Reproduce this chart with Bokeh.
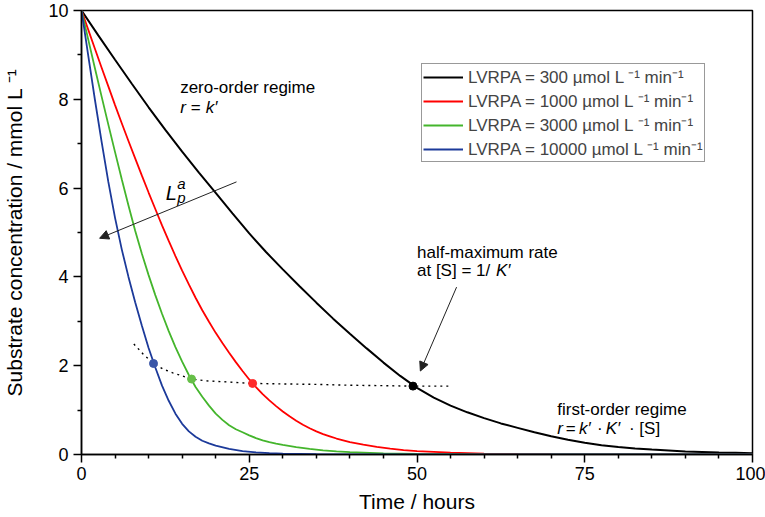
from bokeh.plotting import figure
from bokeh.models import (Range1d, Label, Arrow, NormalHead, Legend, LegendItem,
                          FixedTicker)
from bokeh.embed import file_html
from bokeh.resources import INLINE

# ---------------- data ----------------
series_labels = [
    "LVRPA = 300 µmol L ⁻¹ min⁻¹",
    "LVRPA = 1000 µmol L ⁻¹ min⁻¹",
    "LVRPA = 3000 µmol L ⁻¹ min⁻¹",
    "LVRPA = 10000 µmol L ⁻¹ min⁻¹",
]
series_colors = ["#000000", "#ff0000", "#44b52c", "#1c3a9a"]
dot_colors = ["#000000", "#ff2a2a", "#66bf48", "#3a56a8"]

black_t = [0, 2.5, 5, 7.5, 10, 12.5, 15, 17.5, 20, 22.5, 25, 27.5, 30, 32.5, 35,
           37.5, 40, 42.5, 45, 47.5, 50, 52.5, 55, 57.5, 60, 62.5, 65, 67.5, 70,
           72.5, 75, 77.5, 80, 82.5, 85, 87.5, 90, 92.5, 95, 97.5, 100]
black_S = [10.00, 9.44, 8.89, 8.35, 7.82, 7.31, 6.82, 6.35, 5.89, 5.43, 4.98,
           4.56, 4.17, 3.79, 3.42, 3.06, 2.72, 2.39, 2.07, 1.77, 1.50, 1.28, 1.10,
           0.95, 0.82, 0.70, 0.60, 0.50, 0.41, 0.33, 0.265, 0.21, 0.17, 0.135,
           0.11, 0.09, 0.07, 0.058, 0.047, 0.038, 0.03]

red_t = [0, 1, 2, 3, 4, 5, 6, 7, 8, 9, 10, 11, 12, 13, 14, 15, 16, 17, 18, 19,
         20, 21, 22, 23, 24, 25, 26, 27, 28, 29, 30, 31, 32, 33, 34, 35, 36, 37,
         38, 39, 40, 42, 44, 46, 48, 50, 55, 60, 65, 70, 80, 90, 100]
red_S = [10.00, 9.57, 9.14, 8.71, 8.29, 7.87, 7.46, 7.06, 6.67, 6.28, 5.90, 5.53,
         5.16, 4.81, 4.47, 4.14, 3.83, 3.53, 3.25, 2.99, 2.74, 2.51, 2.29, 2.08,
         1.88, 1.69, 1.52, 1.36, 1.22, 1.09, 0.97, 0.86, 0.76, 0.67, 0.59, 0.52,
         0.46, 0.41, 0.36, 0.32, 0.28, 0.22, 0.17, 0.13, 0.10, 0.077, 0.04, 0.021,
         0.011, 0.006, 0.002, 0.0005, 0.0001]

green_t = [0, 1, 2, 3, 4, 5, 6, 7, 8, 9, 10, 11, 12, 13, 14, 15, 16, 17, 18, 19,
           20, 21, 22, 23, 24, 25, 26, 27, 28, 29, 30, 32, 34, 36, 38, 40, 45, 50,
           60, 70, 100]
green_S = [10.00, 9.35, 8.70, 8.06, 7.43, 6.81, 6.20, 5.61, 5.04, 4.52, 4.04,
           3.59, 3.17, 2.78, 2.42, 2.09, 1.79, 1.52, 1.30, 1.10, 0.92, 0.78, 0.66,
           0.57, 0.50, 0.43, 0.37, 0.32, 0.28, 0.245, 0.215, 0.165, 0.125, 0.095,
           0.072, 0.055, 0.026, 0.012, 0.003, 0.001, 0.0]

blue_t = [0, 1, 2, 3, 4, 5, 6, 7, 8, 9, 10, 11, 12, 13, 14, 15, 16, 17, 18, 19,
          20, 22, 24, 26, 28, 30, 35, 40, 50, 100]
blue_S = [10.00, 8.99, 7.99, 7.04, 6.14, 5.33, 4.62, 4.00, 3.43, 2.90, 2.40, 1.96,
          1.55, 1.21, 0.92, 0.69, 0.52, 0.40, 0.31, 0.25, 0.20, 0.125, 0.078,
          0.048, 0.03, 0.019, 0.006, 0.002, 0.0003, 0.0]

# half-maximum points (one per curve) and the dotted locus through them
half_t = [49.4, 25.5, 16.4, 10.73]
half_S = [1.54, 1.60, 1.70, 2.05]
locus_t = [7.8, 9.2, 10.73, 12.2, 13.6, 16.4, 18.5, 21.0, 25.5, 30.0, 34.7, 40.0,
           45.0, 49.4, 54.7]
locus_S = [2.49, 2.26, 2.05, 1.92, 1.84, 1.70, 1.66, 1.64, 1.60, 1.59, 1.58, 1.56,
           1.55, 1.54, 1.54]

x_ticks = [0, 25, 50, 75, 100]
x_minor = [5, 10, 15, 20, 30, 35, 40, 45, 55, 60, 65, 70, 80, 85, 90, 95]
y_ticks = [0, 2, 4, 6, 8, 10]
y_minor = [1, 3, 5, 7, 9]

FONT = "Liberation Sans"

p = figure(width=765, height=517, x_range=Range1d(0, 100), y_range=Range1d(0, 10),
           output_backend="svg", toolbar_location=None,
           min_border_left=78, min_border_right=13, min_border_top=10,
           min_border_bottom=63)

p.xgrid.visible = False
p.ygrid.visible = False
p.outline_line_color = "black"
p.outline_line_width = 1.5
p.background_fill_color = "white"

p.xaxis.ticker = FixedTicker(ticks=x_ticks, minor_ticks=x_minor)
p.yaxis.ticker = FixedTicker(ticks=y_ticks, minor_ticks=y_minor)
for ax in (p.xaxis[0], p.yaxis[0]):
    ax.axis_line_width = 1.5
    ax.axis_line_color = "black"
    ax.major_tick_in = 0
    ax.major_tick_out = 8
    ax.minor_tick_in = 0
    ax.minor_tick_out = 4
    ax.major_tick_line_width = 1.5
    ax.minor_tick_line_width = 1.5
    ax.major_tick_line_color = "black"
    ax.minor_tick_line_color = "black"
    ax.major_label_text_font = FONT
    ax.major_label_text_font_size = "18px"
    ax.major_label_text_color = "black"
    ax.axis_label_text_font = FONT
    ax.axis_label_text_font_size = "21px"
    ax.axis_label_text_font_style = "normal"
    ax.axis_label_text_color = "black"

p.xaxis.axis_label = "Time / hours"
p.yaxis.axis_label = "Substrate concentration / mmol L ⁻¹"
p.xaxis.major_label_standoff = 4
p.xaxis.axis_label_standoff = 7
p.yaxis.major_label_standoff = 5
p.yaxis.axis_label_standoff = 19

# ---------------- curves ----------------
all_t = [black_t, red_t, green_t, blue_t]
all_S = [black_S, red_S, green_S, blue_S]
widths = [2.0, 1.8, 1.8, 1.8]
renderers = []
for t, s, c, w in zip(all_t, all_S, series_colors, widths):
    renderers.append(p.line(t, s, line_color=c, line_width=w))

p.line(locus_t, locus_S, line_color="black", line_width=1.4, line_dash="2 4")
p.scatter(half_t, half_S, size=8, fill_color=dot_colors, line_color=dot_colors)

# ---------------- legend ----------------
legend = Legend(items=[LegendItem(label=l, renderers=[r])
                       for l, r in zip(series_labels, renderers)],
                location=(340, 292))
legend.border_line_color = "#333333"
legend.border_line_width = 1
legend.padding = 1
legend.margin = 0
legend.spacing = 1
legend.label_height = 20
legend.glyph_height = 20
legend.glyph_width = 40
legend.label_standoff = 5
legend.label_text_font = FONT
legend.label_text_font_size = "17px"
legend.background_fill_alpha = 1
p.add_layout(legend)

# ---------------- annotations ----------------
def lab(x, y, text, size="17px", style="normal", dx=0):
    p.add_layout(Label(x=x, y=y, text=text, x_offset=dx, text_font=FONT,
                       text_font_size=size, text_font_style=style,
                       text_baseline="alphabetic", text_align="left",
                       text_color="black"))

lab(14.7, 8.26, "zero-order regime")
lab(14.7, 7.81, "r", style="italic")
lab(14.7, 7.81, "=", dx=10.6)
lab(14.7, 7.81, "k′", style="italic", dx=25.5)

lab(50.0, 4.56, "half-maximum rate")
lab(50.0, 4.14, "at [S] = 1/")
lab(50.0, 4.14, "K′", style="italic", dx=79)

lab(70.9, 1.02, "first-order regime")
lab(70.9, 0.59, "r", style="italic")
lab(70.9, 0.59, "=", dx=8.4)
lab(70.9, 0.59, "k′", style="italic", dx=21.7)
lab(70.9, 0.59, "·", dx=39.7)
lab(70.9, 0.59, "K′", style="italic", dx=48.4)
lab(70.9, 0.59, "· [S]", dx=71.7)

lab(12.55, 5.88, "L", size="20px", style="italic")
lab(14.27, 6.10, "a", size="15px", style="italic")
lab(14.27, 5.78, "p", size="15px", style="italic")

p.add_layout(Arrow(end=NormalHead(size=9, fill_color="#222222", line_color="#222222"),
                   x_start=23.1, y_start=6.14, x_end=2.7, y_end=4.87,
                   line_width=1, line_color="#222222"))
p.add_layout(Arrow(end=NormalHead(size=9, fill_color="#222222", line_color="#222222"),
                   x_start=55.9, y_start=3.77, x_end=50.5, y_end=1.88,
                   line_width=1, line_color="#222222"))

open("out.html", "w").write(file_html(p, INLINE))
